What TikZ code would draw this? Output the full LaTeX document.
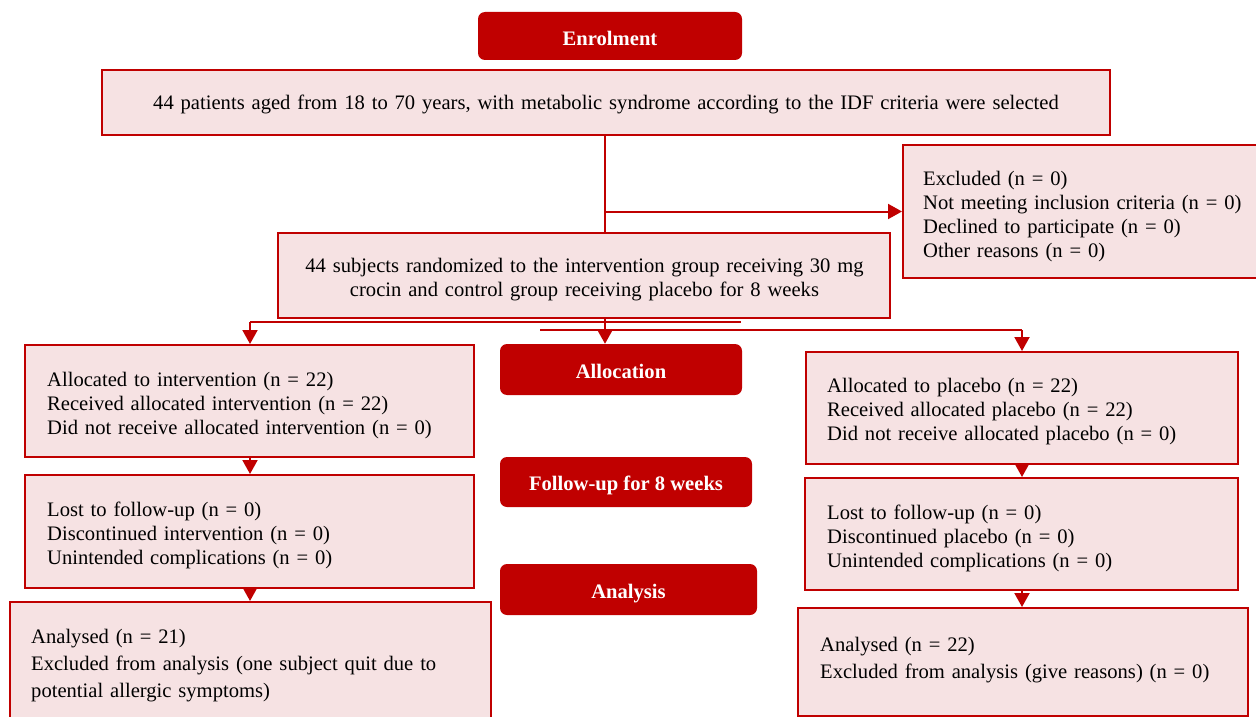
\documentclass[tikz,border=0pt]{standalone}
\usepackage{fontspec}
\setmainfont{Liberation Serif}
\usetikzlibrary{arrows.meta}
\definecolor{dred}{RGB}{192,0,0}
\definecolor{pinkfill}{RGB}{246,226,227}
\tikzset{
  box/.style={draw=dred, line width=2pt, fill=pinkfill, rectangle, inner sep=0pt},
  txt/.style={inner sep=0pt, anchor=base west, align=left, text width=500pt,
    font=\fontsize{20.6}{24}\selectfont, text=black},
  ctxt/.style={inner sep=0pt, anchor=base, align=center, text width=1000pt,
    font=\fontsize{20.6}{24}\selectfont, text=black},
  head/.style={fill=dred, rounded corners=7pt, inner sep=0pt},
  htxt/.style={inner sep=0pt, anchor=base, text=white, font=\fontsize{20.6}{24}\selectfont\bfseries},
  conn/.style={draw=dred, line width=2pt},
  arr/.style={conn, -{Triangle[length=14pt,width=15pt]}}
}
\begin{document}
\begin{tikzpicture}[x=1pt,y=-1pt]
\useasboundingbox (0,0) rectangle (1256,717);
% headings
\node[head, minimum width=264pt, minimum height=48pt] (enrol) at (610,36) {};
\node[head, minimum width=242pt, minimum height=51pt] (alloc) at (621,369.5) {};
\node[head, minimum width=252pt, minimum height=50pt] (follow) at (626,482) {};
\node[head, minimum width=257pt, minimum height=51pt] (analysis) at (628.5,589.5) {};
\node[htxt] (enrolT) at (610,46) {Enrolment};
\node[htxt] (allocT) at (621,378) {Allocation};
\node[htxt] (followT) at (626,490) {Follow-up for 8 weeks};
\node[htxt] (analysisT) at (628.5,598) {Analysis};
% boxes
\node[box, minimum width=1008pt, minimum height=65pt] (main) at (606,102.5) {};
\node[box, minimum width=357pt, minimum height=133pt] (excl) at (1081.5,211.5) {};
\node[box, minimum width=612pt, minimum height=85pt] (rand) at (584,275.5) {};
\node[box, minimum width=449pt, minimum height=112pt] (L1) at (249.5,401) {};
\node[box, minimum width=449pt, minimum height=113pt] (L2) at (249.5,531.5) {};
\node[box, minimum width=481pt, minimum height=123pt] (L3) at (250.5,663.5) {};
\node[box, minimum width=432pt, minimum height=112pt] (R1) at (1022,408) {};
\node[box, minimum width=433pt, minimum height=112pt] (R2) at (1021.5,534) {};
\node[box, minimum width=450pt, minimum height=108pt] (R3) at (1023,662) {};
% texts
\node[ctxt] (mainT) at (606,110)
  {44 patients aged from 18 to 70 years, with metabolic syndrome according to the IDF criteria were selected};
\node[txt] (exclT) at (923,185)
  {Excluded (n = 0)\\Not meeting inclusion criteria (n = 0)\\Declined to participate (n = 0)\\Other reasons (n = 0)};
\node[ctxt] (randT) at (584.5,272)
  {44 subjects randomized to the intervention group receiving 30 mg\\crocin and control group receiving placebo for 8 weeks};
\node[txt] (L1T) at (47,386)
  {Allocated to intervention (n = 22)\\Received allocated intervention (n = 22)\\Did not receive allocated intervention (n = 0)};
\node[txt] (L2T) at (47,516)
  {Lost to follow-up (n = 0)\\Discontinued intervention (n = 0)\\Unintended complications (n = 0)};
\node[txt, font=\fontsize{20.6}{27}\selectfont] (L3T) at (31,643)
  {Analysed (n = 21)\\Excluded from analysis (one subject quit due to\\potential allergic symptoms)};
\node[txt] (R1T) at (827,392)
  {Allocated to placebo (n = 22)\\Received allocated placebo (n = 22)\\Did not receive allocated placebo (n = 0)};
\node[txt] (R2T) at (827,519)
  {Lost to follow-up (n = 0)\\Discontinued placebo (n = 0)\\Unintended complications (n = 0)};
\node[txt, font=\fontsize{20.6}{27}\selectfont] (R3T) at (820,651)
  {Analysed (n = 22)\\Excluded from analysis (give reasons) (n = 0)};
% connectors
\coordinate (spine) at (605,0);
\draw[conn] (main.south -| spine) -- (rand.north -| spine);
\draw[arr] (spine |- excl.west) -- (excl.west);
\draw[arr] (rand.south -| spine) -- (alloc.north -| spine);
\coordinate (jl) at (250,322);
\coordinate (jlend) at (741,322);
\draw[conn] (jl) -- (jlend);
\draw[arr] (jl) -- (jl |- L1.north);
\coordinate (jrstart) at (540,330);
\coordinate (jr) at (1022,330);
\draw[conn] (jrstart) -- (jr);
\draw[arr] (jr) -- (jr |- R1.north);
\draw[arr] (L1.south -| jl) -- (L2.north -| jl);
\draw[arr] (L2.south -| jl) -- (L3.north -| jl);
\draw[arr] (R1.south -| jr) -- (R2.north -| jr);
\draw[arr] (R2.south -| jr) -- (R3.north -| jr);
\end{tikzpicture}
\end{document}
